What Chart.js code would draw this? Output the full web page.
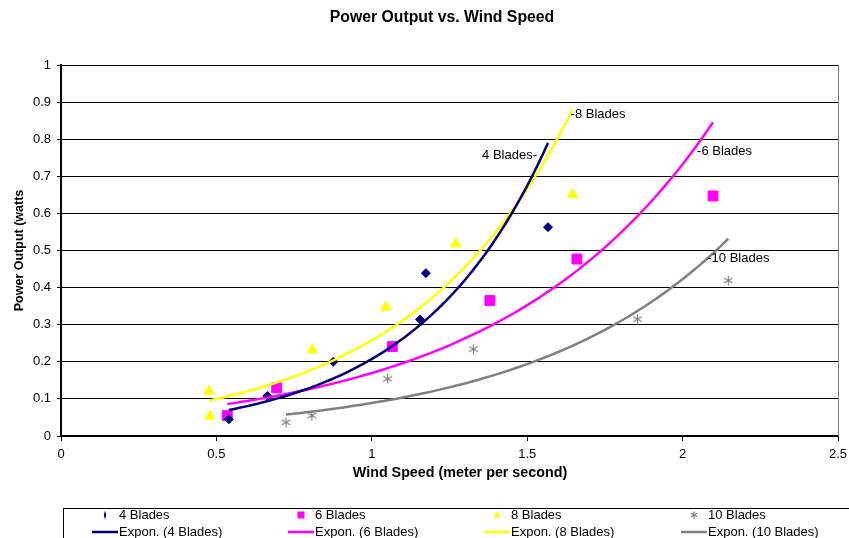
<!DOCTYPE html>
<html>
<head>
<meta charset="utf-8">
<script src="https://cdn.jsdelivr.net/npm/chart.js@4.4.0/dist/chart.umd.min.js"></script>
<style>
  body { margin: 0; background: #fff; }
  canvas { display: block; }
</style>
</head>
<body>
<canvas id="powerChart" width="849" height="538"></canvas>
<script>
// wind speed (m/s) and power output (watts) per blade count
var seriesNames = ['4 Blades', '6 Blades', '8 Blades', '10 Blades'];
var fourX = [0.54, 0.664, 0.876, 1.155, 1.174, 1.567];
var fourY = [0.045, 0.108, 0.2, 0.314, 0.439, 0.563];
var sixX = [0.535, 0.694, 1.066, 1.38, 1.66, 2.098];
var sixY = [0.055, 0.13, 0.241, 0.365, 0.477, 0.647];
var eightX = [0.476, 0.479, 0.809, 1.045, 1.27, 1.646];
var eightY = [0.121, 0.053, 0.232, 0.347, 0.518, 0.651];
var tenX = [0.724, 0.807, 1.051, 1.327, 1.855, 2.147];
var tenY = [0.037, 0.055, 0.154, 0.234, 0.315, 0.419];
var trendLabels = ['4 Blades-', '-6 Blades', '-8 Blades', '-10 Blades'];
var xMax = 2.5, xStep = 0.5;
var yMax = 1, yStep = 0.1;

var colors = ['#000080', '#FF00FF', '#FFFF00', '#808080'];
var FONT = "'Liberation Sans', Arial, sans-serif";
Chart.defaults.font.family = FONT;
Chart.defaults.color = '#000';

function toPoints(xs, ys) {
  return xs.map(function (x, i) { return { x: x, y: ys[i] }; });
}

// excel style exponential trendline: least squares on ln(y)
function expFit(xs, ys) {
  var n = xs.length, mx = 0, my = 0, sxy = 0, sxx = 0, i;
  for (i = 0; i < n; i++) { mx += xs[i]; my += Math.log(ys[i]); }
  mx /= n; my /= n;
  for (i = 0; i < n; i++) {
    sxy += (xs[i] - mx) * (Math.log(ys[i]) - my);
    sxx += (xs[i] - mx) * (xs[i] - mx);
  }
  var b = sxy / sxx;
  return { a: Math.exp(my - b * mx), b: b };
}

function trendPoints(xs, ys) {
  var fit = expFit(xs, ys);
  var lo = Math.min.apply(null, xs), hi = Math.max.apply(null, xs);
  var pts = [];
  for (var i = 0; i <= 60; i++) {
    var x = lo + (hi - lo) * i / 60;
    pts.push({ x: x, y: fit.a * Math.exp(fit.b * x) });
  }
  return pts;
}

function asterisk(size, color) {
  var c = document.createElement('canvas');
  c.width = size; c.height = size;
  var g = c.getContext('2d');
  var m = size / 2, r = size / 2 - 0.5;
  var dx = r * Math.cos(Math.PI / 6), dy = r * Math.sin(Math.PI / 6);
  g.strokeStyle = color;
  g.lineWidth = 1.2;
  g.beginPath();
  g.moveTo(m, m - r); g.lineTo(m, m + r);
  g.moveTo(m - dx, m - dy); g.lineTo(m + dx, m + dy);
  g.moveTo(m - dx, m + dy); g.lineTo(m + dx, m - dy);
  g.stroke();
  return c;
}
var starMark = asterisk(11, colors[3]);
var starLegend = asterisk(8, colors[3]);

function plainNumber(v) {
  return String(Math.round(v * 100) / 100);
}

var xsList = [fourX, sixX, eightX, tenX];
var ysList = [fourY, sixY, eightY, tenY];
var styles = ['rectRot', 'rect', 'triangle', starMark];
var radii = [4.5, 7, 6, 5.5];

var datasets = [];
seriesNames.forEach(function (name, k) {
  datasets.push({
    label: name,
    data: toPoints(xsList[k], ysList[k]),
    pointStyle: styles[k],
    pointRadius: radii[k],
    pointHoverRadius: radii[k],
    backgroundColor: colors[k],
    borderColor: colors[k],
    borderWidth: 1,
    showLine: false,
    order: 2
  });
});
seriesNames.forEach(function (name, k) {
  datasets.push({
    label: 'Expon. (' + name + ')',
    data: trendPoints(xsList[k], ysList[k]),
    borderColor: colors[k],
    backgroundColor: colors[k],
    borderWidth: 2.5,
    pointRadius: 0,
    showLine: true,
    tension: 0,
    order: 1
  });
});

var extras = {
  id: 'extras',
  afterDraw: function (chart) {
    var ctx = chart.ctx, area = chart.chartArea;
    ctx.save();

    // plot area right border
    ctx.strokeStyle = '#808080';
    ctx.lineWidth = 1;
    ctx.beginPath();
    ctx.moveTo(area.right + 0.5, area.top);
    ctx.lineTo(area.right + 0.5, area.bottom);
    ctx.stroke();

    ctx.fillStyle = '#000';
    ctx.textBaseline = 'middle';

    // titles
    ctx.textAlign = 'center';
    ctx.font = 'bold 15.8px ' + FONT;
    ctx.fillText('Power Output vs. Wind Speed', 442, 18);
    ctx.font = 'bold 14.3px ' + FONT;
    ctx.fillText('Wind Speed (meter per second)', 460, 473);

    // labels at the end of each trendline
    var offs = [[-11, 13, 'right'], [-16, 29, 'left'], [-2, 5, 'left'], [-21, 20, 'left']];
    ctx.font = '13px ' + FONT;
    trendLabels.forEach(function (t, k) {
      var pts = chart.getDatasetMeta(4 + k).data;
      var end = pts[pts.length - 1];
      ctx.textAlign = offs[k][2];
      ctx.fillText(t, end.x + offs[k][0], end.y + offs[k][1]);
    });

    // legend box
    ctx.strokeStyle = '#000';
    ctx.lineWidth = 1;
    ctx.strokeRect(63.5, 508.5, 820, 40);
    var colX = [119, 315, 511, 708], rowY = [515, 532];
    ctx.textAlign = 'left';
    chart.data.datasets.forEach(function (ds, i) {
      var col = i % 4, row = Math.floor(i / 4);
      var tx = colX[col], ty = rowY[row];
      ctx.fillStyle = colors[col];
      ctx.strokeStyle = colors[col];
      if (row === 0) {
        var mx = tx - 14;
        if (col === 0) {
          ctx.beginPath();
          ctx.moveTo(mx, ty - 4.5); ctx.lineTo(mx + 1.2, ty);
          ctx.lineTo(mx, ty + 4.5); ctx.lineTo(mx - 1.2, ty);
          ctx.closePath(); ctx.fill();
        } else if (col === 1) {
          ctx.fillRect(mx - 3.5, ty - 3.5, 7, 7);
        } else if (col === 2) {
          ctx.beginPath();
          ctx.moveTo(mx, ty - 4.5); ctx.lineTo(mx + 3.5, ty + 2.5);
          ctx.lineTo(mx - 3.5, ty + 2.5); ctx.closePath(); ctx.fill();
        } else {
          ctx.drawImage(starLegend, mx - 4, ty - 4);
        }
      } else {
        ctx.lineWidth = 2.5;
        ctx.beginPath();
        ctx.moveTo(tx - 27, ty); ctx.lineTo(tx - 1, ty);
        ctx.stroke();
      }
      ctx.fillStyle = '#000';
      ctx.fillText(ds.label, tx, ty);
    });
    ctx.restore();
  }
};

new Chart(document.getElementById('powerChart'), {
  type: 'scatter',
  data: { datasets: datasets },
  plugins: [extras],
  options: {
    responsive: false,
    animation: false,
    layout: { padding: { left: 0, right: 11, top: 65, bottom: 52 } },
    plugins: {
      legend: { display: false },
      title: { display: false },
      tooltip: { enabled: false }
    },
    scales: {
      x: {
        min: 0,
        max: xMax,
        afterFit: function (scale) {
          scale.height = 50;
          scale.paddingLeft = 0;
          scale.paddingRight = 0;
        },
        ticks: { stepSize: xStep, padding: 6, font: { size: 13 }, color: '#000', maxRotation: 0, callback: plainNumber },
        grid: { drawOnChartArea: false, drawTicks: true, tickLength: 5, color: '#000', tickColor: '#000' },
        border: { color: '#000', width: 2 }
      },
      y: {
        min: 0,
        max: yMax,
        afterFit: function (scale) { scale.width = 61; },
        ticks: { stepSize: yStep, padding: 6, font: { size: 13 }, color: '#000', callback: plainNumber },
        grid: { color: '#000', lineWidth: 1, tickLength: 4, tickColor: '#000' },
        border: { color: '#000', width: 2 },
        title: {
          display: true,
          text: 'Power Output (watts',
          font: { size: 12.5, weight: 'bold' },
          color: '#000',
          padding: { top: 12, bottom: 0 }
        }
      }
    }
  }
});
</script>
</body>
</html>
